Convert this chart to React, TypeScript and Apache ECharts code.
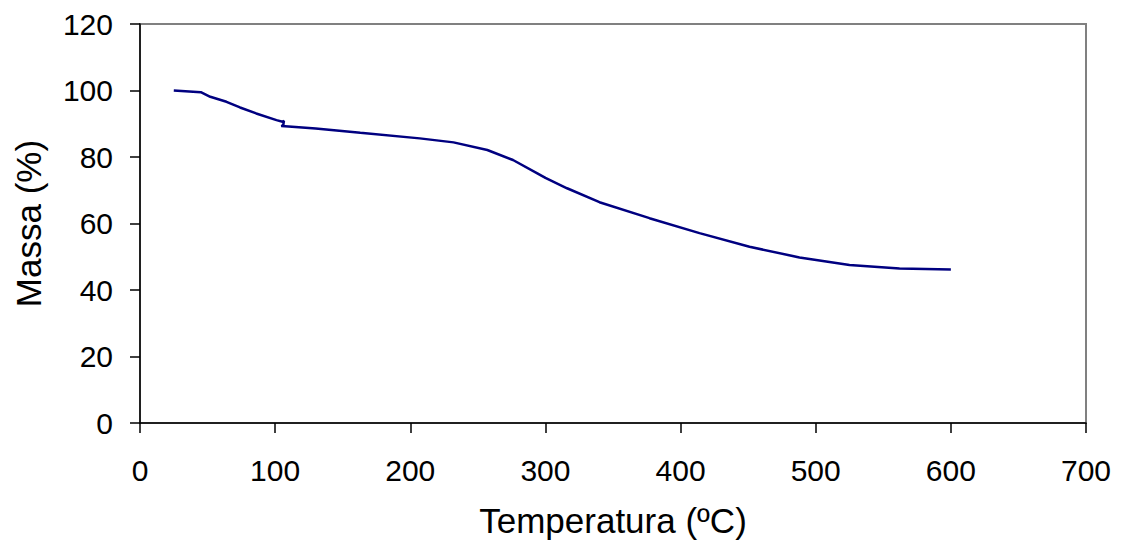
import React, { useEffect, useRef } from "react";
import * as echarts from "echarts";

// TGA curve
const temperatures = [
  25, 45, 52, 64, 74, 86, 101, 105.5, 106.5, 106, 104.5, 110, 130, 163, 207,
  232, 257, 276, 294, 300, 316, 340, 377, 414, 451, 488, 525, 562, 600,
];
const masses = [
  100, 99.5, 98.1, 96.6, 94.9, 93.1, 91.1, 90.6, 90.9, 89.5, 89.3, 89.2, 88.6,
  87.3, 85.6, 84.4, 82.1, 79.1, 75.1, 73.7, 70.6, 66.4, 61.6, 57.1, 53.0, 49.8,
  47.5, 46.5, 46.2,
];
const xTicks = [0, 100, 200, 300, 400, 500, 600, 700];
const yTicks = [0, 20, 40, 60, 80, 100, 120];

const FONT = "'Liberation Sans', Arial, sans-serif";

const App: React.FC = () => {
  const chartRef = useRef<HTMLDivElement>(null);

  useEffect(() => {
    if (!chartRef.current) return;
    const chart = echarts.init(chartRef.current, undefined, { renderer: "svg" });

    const points = temperatures.map((t, i) => [t, masses[i]]);

    chart.setOption({
      animation: false,
      backgroundColor: "#ffffff",
      textStyle: { fontFamily: FONT },
      grid: {
        left: 140,
        right: 36,
        top: 24,
        bottom: 124,
        outerBoundsMode: "none",
        containLabel: false,
        show: true,
        borderColor: "#808080",
        borderWidth: 2,
        backgroundColor: "transparent",
      },
      xAxis: {
        type: "value",
        min: xTicks[0],
        max: xTicks[xTicks.length - 1],
        interval: 100,
        name: "Temperatura (ºC)",
        nameLocation: "middle",
        nameGap: 80,
        nameTextStyle: { fontSize: 35, color: "#000", fontFamily: FONT },
        axisLine: { show: true, lineStyle: { color: "#000", width: 1.5 } },
        axisTick: { show: true, length: 10, lineStyle: { color: "#000", width: 1.5 } },
        axisLabel: { fontSize: 30, color: "#000", margin: 32, fontFamily: FONT },
        splitLine: { show: false },
      },
      yAxis: {
        type: "value",
        min: yTicks[0],
        max: yTicks[yTicks.length - 1],
        interval: 20,
        name: "Massa (%)",
        nameLocation: "middle",
        nameGap: 94,
        nameTextStyle: { fontSize: 35, color: "#000", fontFamily: FONT },
        axisLine: { show: true, lineStyle: { color: "#000", width: 1.5 } },
        axisTick: { show: true, length: 10, lineStyle: { color: "#000", width: 1.5 } },
        axisLabel: { fontSize: 30, color: "#000", margin: 27, fontFamily: FONT },
        splitLine: { show: false },
      },
      series: [
        {
          type: "line",
          data: points,
          showSymbol: false,
          smooth: false,
          lineStyle: { color: "#000080", width: 2.5 },
        },
      ],
    });

    return () => {
      chart.dispose();
    };
  }, []);

  return (
    <div
      ref={chartRef}
      style={{ position: "absolute", left: 0, top: 0, width: 1122, height: 547 }}
    />
  );
};

export default App;
